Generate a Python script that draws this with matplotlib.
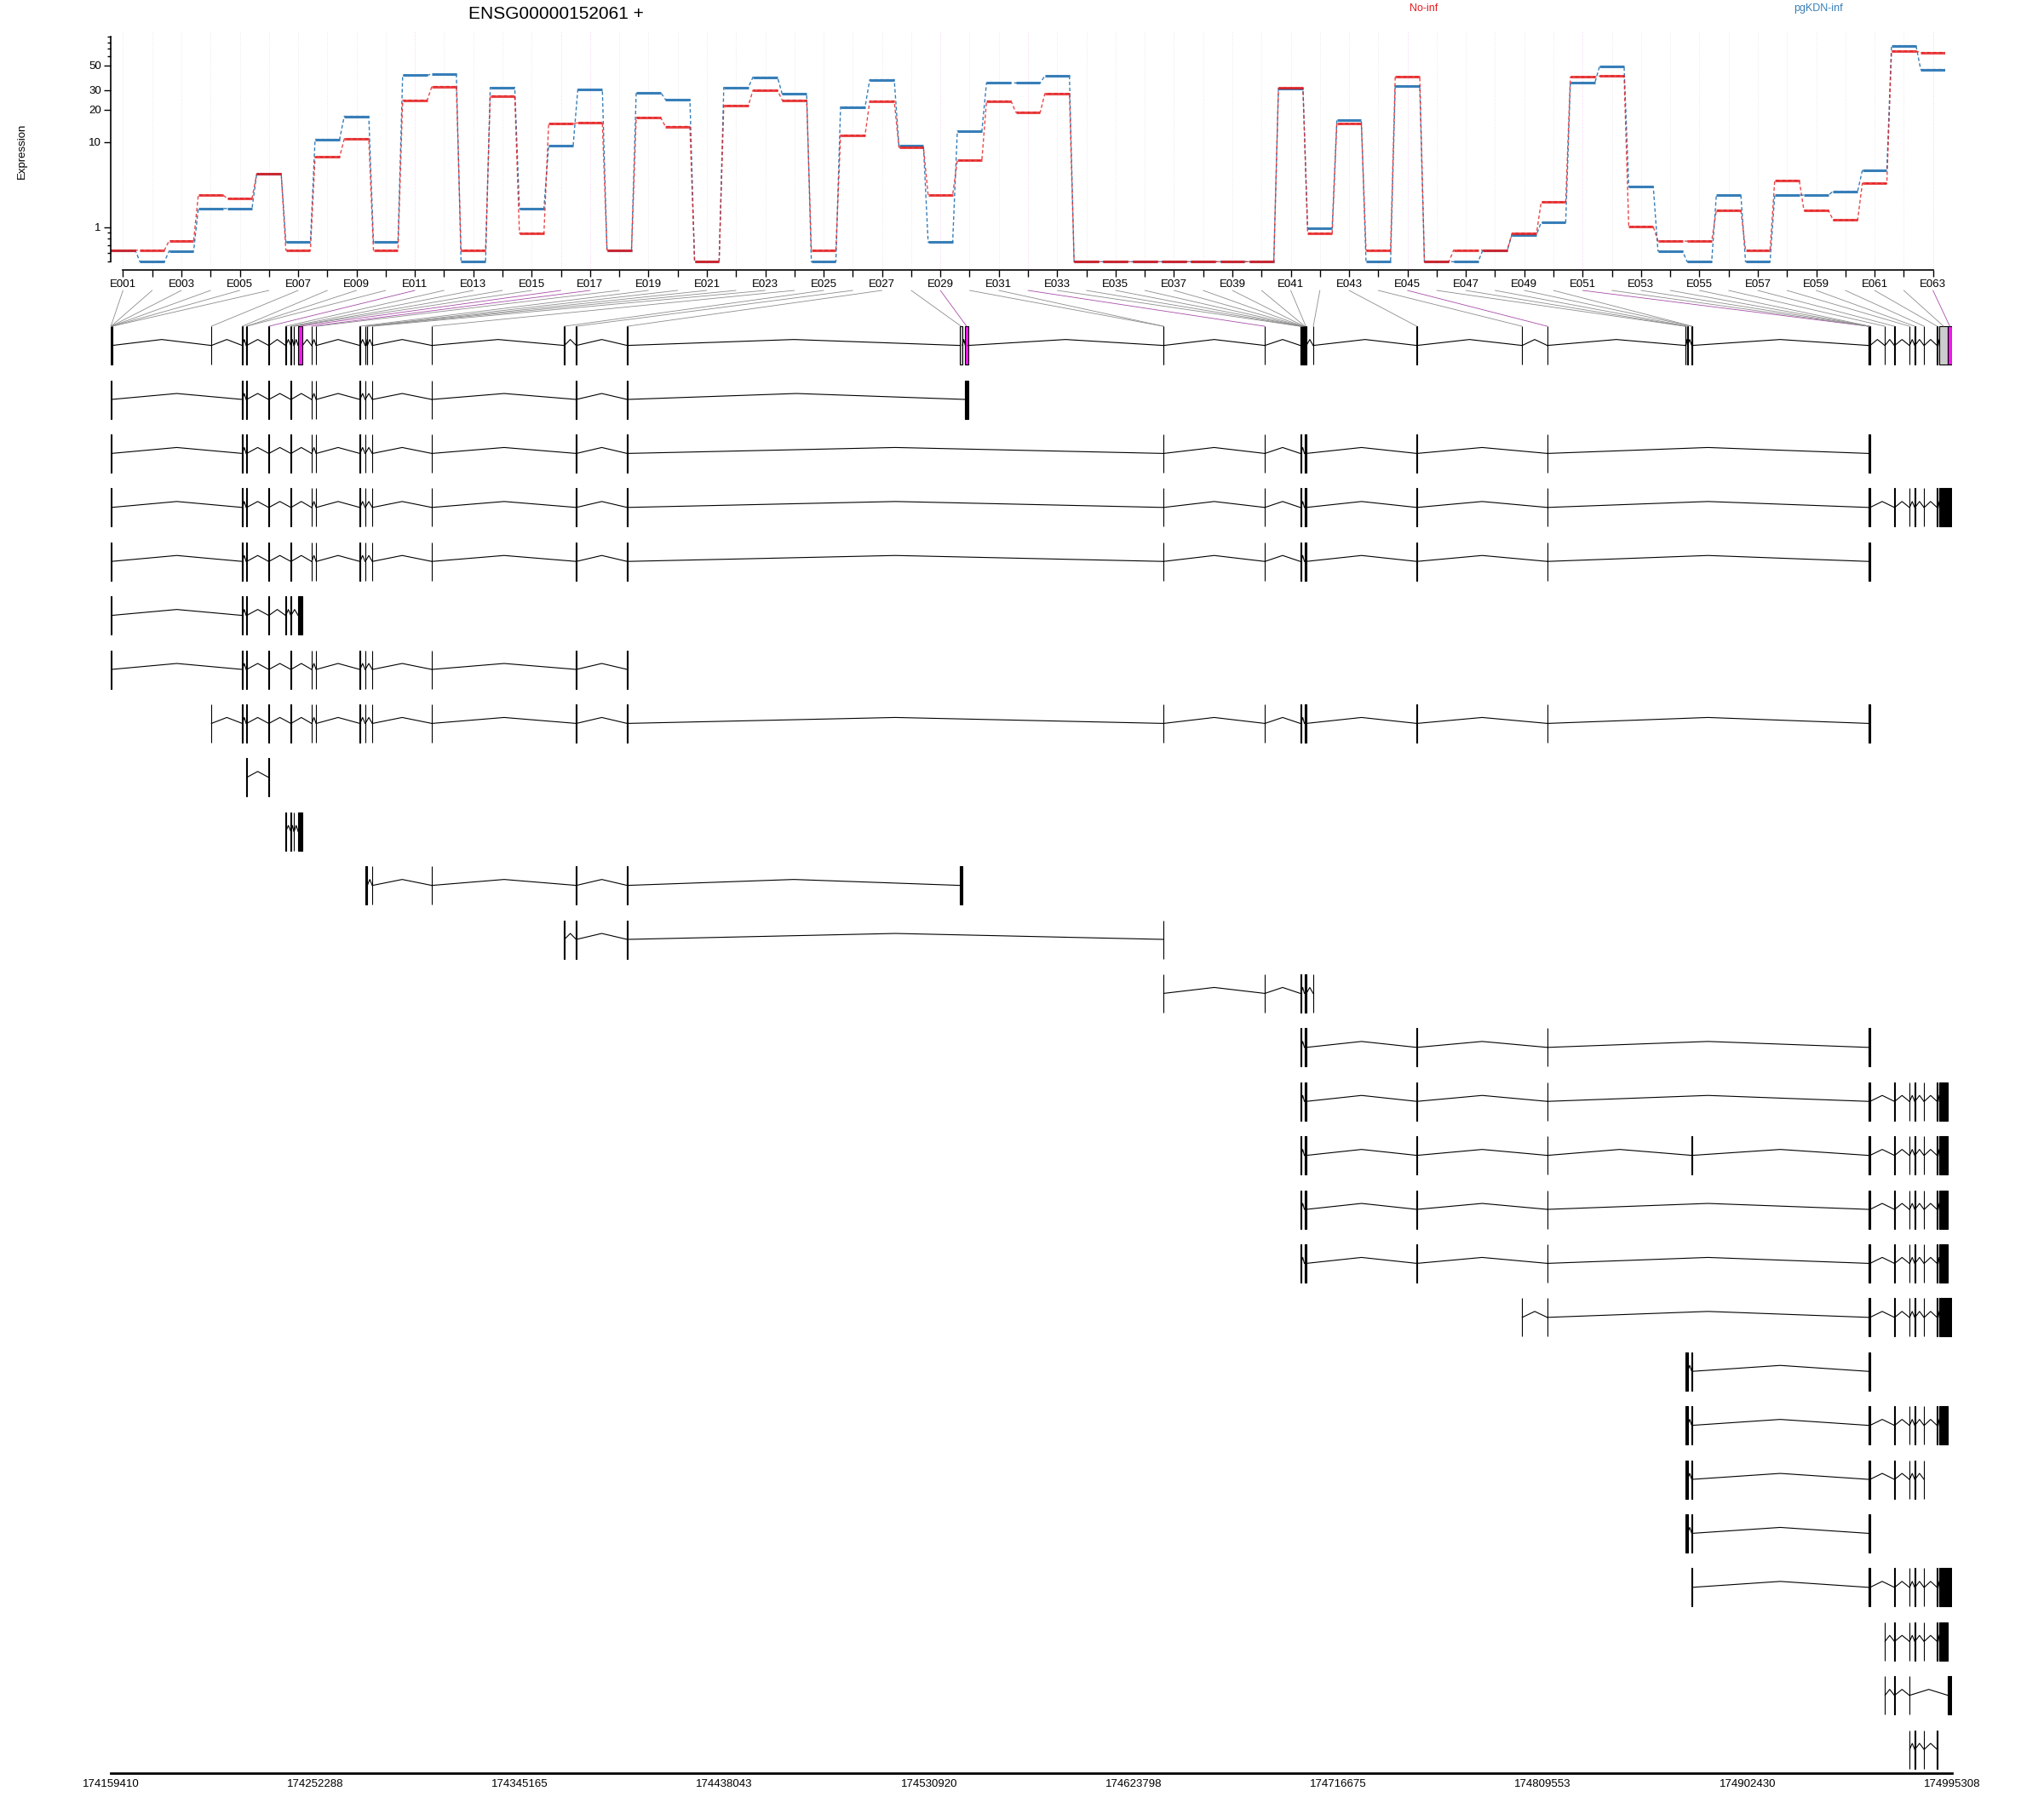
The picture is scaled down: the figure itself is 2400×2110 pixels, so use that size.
import matplotlib
matplotlib.use('Agg')
import matplotlib.pyplot as plt
import numpy as np
from matplotlib.patches import Rectangle, ConnectionPatch
from matplotlib.transforms import blended_transform_factory

plt.rcParams['font.family'] = ['Liberation Sans', 'DejaVu Sans']

gene_id = 'ENSG00000152061 +'
conditions = ['No-inf', 'pgKDN-inf']
cond_colors = ['#E41A1C', '#377EB8']
sig_color = '#F219ED'

exon_ids = ['E%03d' % i for i in range(1, 64)]
significant = ['E011', 'E016', 'E017', 'E029', 'E032', 'E045', 'E051', 'E063']

# fitted expression per exon bin
no_inf = [0.26, 0.26, 0.52, 2.8, 2.55, 4.8, 0.26, 7.15, 10.7, 0.26,
          24.4, 32.4, 0.26, 26.7, 0.77, 14.8, 15.2, 0.26, 16.9, 14.0,
          0, 21.8, 30.0, 24.4, 0.26, 11.6, 24.0, 8.9, 2.8, 6.6,
          24.0, 19.0, 28.0, 0, 0, 0, 0, 0, 0, 0,
          31.4, 0.77, 14.9, 0.26, 39.7, 0, 0.26, 0.26, 0.77, 2.3,
          39.4, 40.2, 1.02, 0.51, 0.51, 1.8, 0.26, 4.1, 1.8, 1.3,
          3.8, 66.9, 65.0]
pgkdn_inf = [0.26, 0, 0.24, 1.9, 1.9, 4.8, 0.48, 10.6, 17.4, 0.48,
             40.9, 41.9, 0, 31.8, 1.9, 9.2, 30.5, 0.26, 28.6, 24.8,
             0, 31.8, 39.3, 27.8, 0, 21.2, 37.3, 9.2, 0.48, 12.7,
             34.9, 34.9, 40.4, 0, 0, 0, 0, 0, 0, 0,
             31.0, 0.96, 16.0, 0, 32.8, 0, 0, 0.26, 0.72, 1.2,
             35.1, 49.0, 3.5, 0.24, 0, 2.8, 0, 2.8, 2.8, 3.1,
             5.2, 74.7, 46.0]

# genomic coordinates of the counting bins
bin_start = [174159410, 174159521, 174159611, 174159701, 174159821, 174159951,
             174205000, 174219100, 174220880, 174221001, 174231100, 174238800,
             174241170, 174242530, 174242611, 174244480, 174250580, 174252650,
             174272480, 174274900, 174275700, 174275801, 174278160, 174305160,
             174365250, 174370700, 174393840, 174544920, 174547348, 174637200,
             174637321, 174683270, 174699430, 174699601, 174699801, 174700001,
             174700301, 174700601, 174700901, 174701301, 174701701, 174705290,
             174752300, 174800070, 174811560, 174874150, 174874251, 174875200,
             174877150, 174877251, 174957300, 174957451, 174957601, 174957751,
             174957901, 174964770, 174969150, 174975960, 174978380, 174982580,
             174988500, 174989600, 174993421]
bin_end = [174159520, 174159610, 174159700, 174159820, 174159950, 174160110,
           174205150, 174219220, 174221000, 174221150, 174231230, 174238920,
           174241290, 174242610, 174242700, 174246490, 174250700, 174252770,
           174272600, 174275000, 174275800, 174275900, 174278280, 174305280,
           174365370, 174370820, 174393960, 174546045, 174548592, 174637320,
           174637420, 174683390, 174699600, 174699800, 174700000, 174700300,
           174700600, 174700900, 174701300, 174701700, 174702200, 174705410,
           174752420, 174800190, 174811680, 174874250, 174874350, 174875300,
           174877250, 174877350, 174957450, 174957600, 174957750, 174957900,
           174958100, 174964890, 174969270, 174976080, 174978500, 174982700,
           174988650, 174993420, 174995196]

# transcripts: exons given as bin numbers or (first, last) bin ranges
transcripts = [
    [(1, 3), 8, (9, 10), 11, 13, 17, 18, 19, 20, 23, 24, 26, 27, 29],
    [(1, 3), 8, (9, 10), 11, 13, 17, 18, 19, 20, 23, 24, 26, 27, (30, 31), 32, (33, 34), (40, 41), 43, 45, (51, 55)],
    [(1, 3), 8, (9, 10), 11, 13, 17, 18, 19, 20, 23, 24, 26, 27, (30, 31), 32, (33, 34), (40, 41), 43, 45, (51, 55),
     57, 58, 59, 60, 61, (62, 63)],
    [(1, 3), 8, (9, 10), 11, 13, 17, 18, 19, 20, 23, 24, 26, 27, (30, 31), 32, (33, 34), (40, 41), 43, 45, (51, 55)],
    [(1, 3), 8, (9, 10), 11, 12, 13, 16],
    [(1, 3), 8, (9, 10), 11, 13, 17, 18, 19, 20, 23, 24, 26, 27],
    [7, 8, (9, 10), 11, 13, 17, 18, 19, 20, 23, 24, 26, 27, (30, 31), 32, (33, 34), (40, 41), 43, 45, (51, 55)],
    [(9, 10), 11],
    [12, 13, (14, 15), 16],
    [(20, 22), 23, 24, 26, 27, 28],
    [25, 26, 27, 30],
    [(30, 31), 32, (33, 34), (40, 41), 42],
    [(33, 34), (40, 41), 43, 45, (51, 55)],
    [(33, 34), (40, 41), 43, 45, (51, 55), 57, 58, 59, 60, 61, 62],
    [(33, 34), (40, 41), 43, 45, (49, 50), (51, 55), 57, 58, 59, 60, 61, 62],
    [(33, 34), (40, 41), 43, 45, (51, 55), 57, 58, 59, 60, 61, 62],
    [(33, 34), (40, 41), 43, 45, (51, 55), 57, 58, 59, 60, 61, 62],
    [44, 45, (51, 55), 57, 58, 59, 60, 61, (62, 63)],
    [(46, 48), (49, 50), (51, 55)],
    [(46, 48), (49, 50), (51, 55), 57, 58, 59, 60, 61, 62],
    [(46, 48), (49, 50), (51, 55), 57, 58, 59, 60],
    [(46, 48), (49, 50), (51, 55)],
    [(49, 50), (51, 55), 57, 58, 59, 60, 61, (62, 63)],
    [56, 57, 58, 59, 60, 61, 62],
    [56, 57, 58, 63],
    [58, 59, 60, 61],
]

genome_ticks = [174159410, 174252288, 174345165, 174438043, 174530920,
                174623798, 174716675, 174809553, 174902430, 174995308]

fig = plt.figure(figsize=(24, 21.1), dpi=100)

# ---- expression panel ----
ax = fig.add_axes([0.05417, 0.84991, 0.8975, 0.13241])
ax.set_yscale('function', functions=(lambda v: np.log10(np.clip(v, -0.99, None) + 1), lambda t: 10 ** t - 1))

xs = np.arange(1, len(exon_ids) + 1)
for i, eid in enumerate(exon_ids):
    c = '#F8CFF6' if eid in significant else '#E9E9E9'
    ax.axvline(xs[i], color=c, lw=0.7, ls=':', zorder=0)

half = 0.42
for vals, col, a in [(pgkdn_inf, cond_colors[1], 1.0), (no_inf, cond_colors[0], 0.8)]:
    px, py = [], []
    for x, v in zip(xs, vals):
        px += [x - half, x + half]
        py += [v, v]
    ax.plot(px, py, color=col, lw=1.0, ls=(0, (3, 2)), alpha=a)
    ax.hlines(vals, xs - half, xs + half, color=col, lw=2.2, alpha=a)

ax.set_xlim(0.58, 63.42)
ax.set_ylim(-0.148, 99)
ax.set_xticks(xs)
ax.set_xticklabels([e if i % 2 == 0 else '' for i, e in enumerate(exon_ids)], fontsize=9.5)
ax.set_yticks([1, 10, 20, 30, 50])
ax.set_yticklabels(['1', '10', '20', '30', '50'], fontsize=9.5)
ax.set_yticks([0, 0.2, 0.4, 0.6, 0.8, 60, 70, 80, 90], minor=True)
ax.tick_params(axis='x', length=6, width=1, pad=2)
ax.tick_params(axis='y', which='major', length=6, width=1, pad=2)
ax.tick_params(axis='y', which='minor', length=3, width=1)
for s in ['top', 'right']:
    ax.spines[s].set_visible(False)
ax.spines['bottom'].set_bounds(1, 63)
ax.spines['left'].set_bounds(0, 90)
ax.spines['bottom'].set_linewidth(1.2)
ax.spines['left'].set_linewidth(1.2)
ax.set_ylabel('Expression', fontsize=9.5, labelpad=52)

fig.text(653 / 2400, 1 - 16 / 2110, gene_id, fontsize=15, ha='center', va='center')
fig.text(1672 / 2400, 1 - 10 / 2110, conditions[0], color=cond_colors[0], fontsize=9, ha='center', va='center')
fig.text(2135 / 2400, 1 - 10 / 2110, conditions[1], color=cond_colors[1], fontsize=9, ha='center', va='center')

# ---- gene model and transcripts ----
gx = fig.add_axes([0.05417, 0.01346, 0.90083, 0.81118])
gx.set_xlim(genome_ticks[0], genome_ticks[-1])
gx.set_ylim(27.435, 0.4385)
box_h = 0.355
peak = 0.11


def draw_row(row, exons, faces):
    for k, (s, e) in enumerate(exons):
        gx.add_patch(Rectangle((s, row - box_h), e - s, 2 * box_h, facecolor=faces[k],
                               edgecolor='black', lw=0.8))
        if k + 1 < len(exons) and exons[k + 1][0] > e + 1:
            s2 = exons[k + 1][0]
            gx.plot([e, (e + s2) / 2, s2], [row, row - peak, row], color='black', lw=0.8)


faces = [sig_color if eid in significant else '#CCCCCC' for eid in exon_ids]
draw_row(1, list(zip(bin_start, bin_end)), faces)

for r, tr in enumerate(transcripts):
    ex = []
    for e in tr:
        a, b = e if isinstance(e, tuple) else (e, e)
        ex.append((bin_start[a - 1], bin_end[b - 1]))
    draw_row(r + 2, ex, ['black'] * len(ex))

gx.set_xticks(genome_ticks)
gx.set_xticklabels([str(t) for t in genome_ticks], fontsize=9.5)
gx.tick_params(axis='x', length=0, pad=5)
gx.set_yticks([])
for s in ['top', 'right', 'left']:
    gx.spines[s].set_visible(False)
gx.spines['bottom'].set_linewidth(2)

# lines from exon labels to the bins on the gene model
trans_top = blended_transform_factory(ax.transData, fig.transFigure)
for i, eid in enumerate(exon_ids):
    mid = (bin_start[i] + bin_end[i]) / 2
    col = '#A64CA6' if eid in significant else '#8C8C8C'
    con = ConnectionPatch(xyA=(xs[i], 1 - 341 / 2110), coordsA=trans_top,
                          xyB=(mid, 1 - box_h), coordsB=gx.transData,
                          color=col, lw=0.6)
    fig.add_artist(con)

plt.savefig('out.png', dpi=100)
